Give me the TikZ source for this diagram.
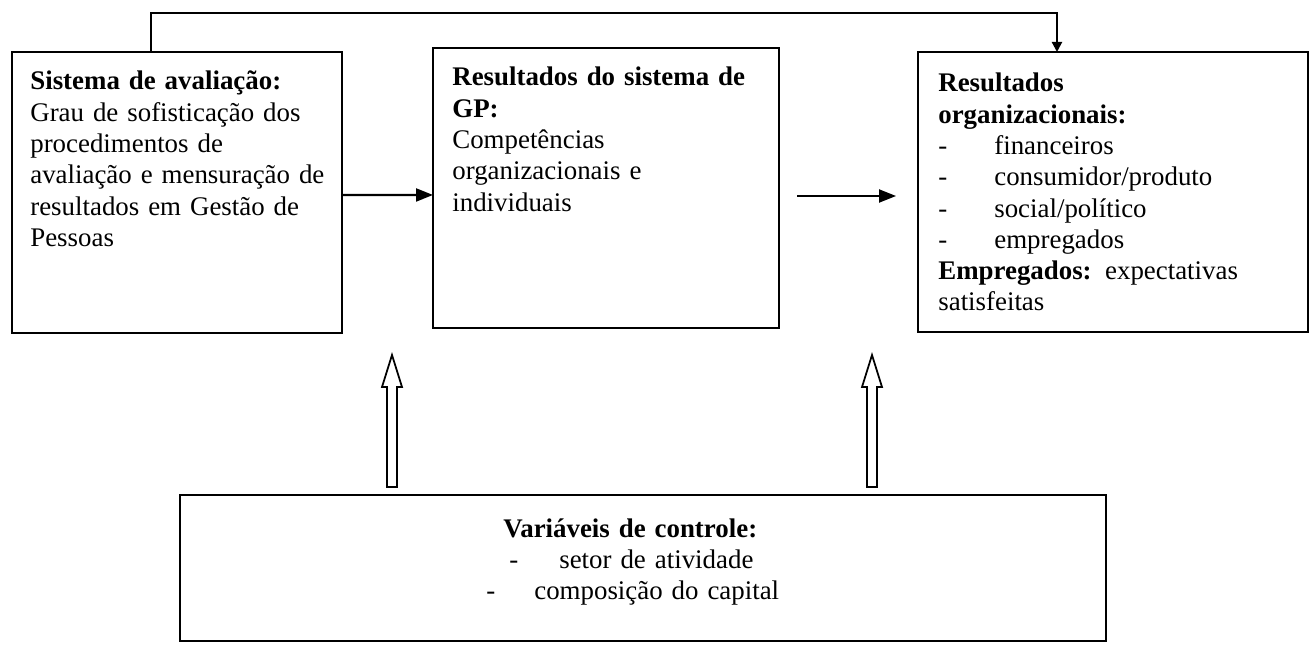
\documentclass[tikz,border=0pt]{standalone}
\usepackage{fontspec}
\setmainfont{Liberation Serif}
\usetikzlibrary{arrows.meta}

\tikzset{
  box/.style={draw, line width=1.3pt, anchor=north west, inner sep=0pt, outer sep=0pt},
  txt/.style={anchor=base west, align=left, inner sep=0pt, text width=#1,
    font=\fontsize{15.3}{17.8}\selectfont},
  arr/.style={line width=1.2pt, -{Triangle[length=0.34cm,width=0.26cm]}},
  smallarr/.style={line width=1.2pt, -{Triangle[length=0.2cm,width=0.2cm]}},
  hollow/.style={line width=1pt, line join=miter}
}
\newcommand{\dashitem}[1]{\makebox[1.12cm][l]{-}#1}
% hollow arrow pointing up, starting from a named point
\newcommand{\fatarrow}[1]{\draw[hollow] (#1) ++(-5,0) -- ++(0,-100) -- ++(-5,0)
  -- ++(10,-32) -- ++(10,32) -- ++(-5,0) -- ++(0,100) -- cycle;}

\begin{document}
\begin{tikzpicture}[x=0.02cm,y=-0.02cm]
\useasboundingbox (0,0) rectangle (1314,645);

% the four boxes
\node[box, minimum width=6.6cm, minimum height=5.62cm] (sist) at (12,52) {};
\node[box, minimum width=6.92cm, minimum height=5.6cm] (gp) at (433,48) {};
\node[box, minimum width=7.8cm, minimum height=5.6cm] (org) at (918,52) {};
\node[box, minimum width=18.52cm, minimum height=2.92cm] (ctrl) at (180,495) {};

\node[txt=6.4cm] (sistT) at (30,90) {\textbf{Sistema de avaliação:}\\
  Grau de sofisticação dos\\ procedimentos de\\ avaliação e mensuração de\\
  resultados em Gestão de\\ Pessoas};
\node[txt=6.7cm] (gpT) at (452,86) {\textbf{Resultados do sistema de}\\
  \textbf{GP:}\\ Competências\\ organizacionais e\\ individuais};
\node[txt=7.4cm] (orgT) at (938,92) {\textbf{Resultados}\\ \textbf{organizacionais:}\\
  \dashitem{financeiros}\\ \dashitem{consumidor/produto}\\ \dashitem{social/político}\\
  \dashitem{empregados}\\ \textbf{Empregados:} expectativas\\ satisfeitas};
\node[txt=8cm] (ctrlT) at (486,537) {\hspace*{0.34cm}\textbf{Variáveis de controle:}\\
  \hspace*{0.46cm}\makebox[1cm][l]{-}setor de atividade\\
  \makebox[0.96cm][l]{-}composição do capital};

% connectors
\draw[arr] ([yshift=-0.05cm]sist.east) -- ([yshift=-0.14cm]gp.west);
\coordinate (m1) at (797,196);
\coordinate (m2) at (896,196);
\draw[arr] (m1) -- (m2);
\draw[smallarr] ([xshift=-0.52cm]sist.north) -- ++(0,-39) -| ([xshift=-1.12cm]org.north);

\coordinate (u1) at (392,487);
\coordinate (u2) at (872,487);
\fatarrow{u1}
\fatarrow{u2}
\end{tikzpicture}
\end{document}
